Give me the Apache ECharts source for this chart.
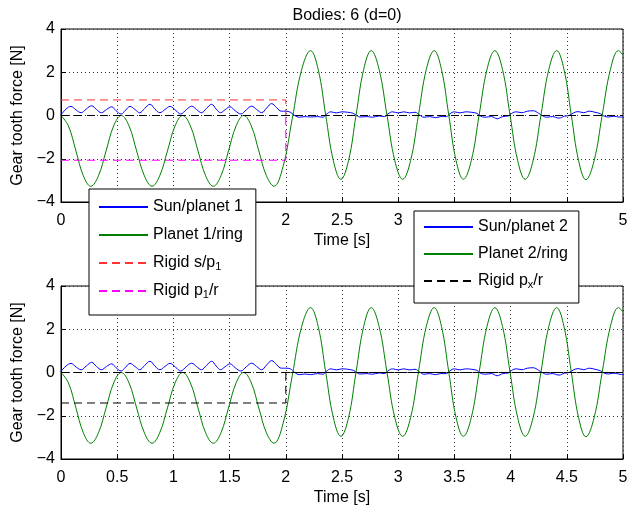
<!DOCTYPE html>
<html><head><meta charset="utf-8">
<script src="https://cdn.jsdelivr.net/npm/echarts@6/dist/echarts.min.js"></script>
<style>html,body{margin:0;padding:0;background:#fff}#c{width:642px;height:513px}</style>
</head><body><div id="c"></div>
<script>
// ---- data ----
const titleText = 'Bodies: 6 (d=0)';
const xTicks = { min: 0, max: 5, step: 0.5 };
const yTicks = { min: -4, max: 4, step: 2 };

const sunPlanet1 = [[0,0.02],[0.045,0.3],[0.089,0.42],[0.135,0.25],[0.18,0.13],[0.225,0.3],[0.273,0.45],[0.315,0.28],[0.36,0.13],[0.405,0.28],[0.451,0.40],[0.49,0.22],[0.535,0.07],[0.575,0.25],[0.614,0.42],[0.66,0.27],[0.70,0.13],[0.745,0.33],[0.792,0.52],[0.835,0.3],[0.88,0.13],[0.925,0.28],[0.97,0.42],[1.02,0.24],[1.065,0.07],[1.115,0.27],[1.163,0.43],[1.205,0.28],[1.25,0.13],[1.295,0.33],[1.34,0.52],[1.38,0.3],[1.42,0.13],[1.46,0.27],[1.504,0.40],[1.55,0.22],[1.60,0.07],[1.65,0.27],[1.696,0.43],[1.74,0.28],[1.785,0.13],[1.83,0.35],[1.874,0.55],[1.92,0.35],[1.96,0.2],[2.0,0.2],
[2.04,0.15],[2.08,0.0],[2.12,-0.08],[2.17,-0.05],[2.22,-0.07],[2.28,-0.05],[2.33,-0.08],[2.36,0.05],[2.40,0.17],[2.45,0.12],[2.50,0.17],[2.55,0.15],[2.60,0.1],[2.63,0.0],[2.66,-0.07],[2.72,-0.05],[2.77,-0.08],[2.83,-0.02],[2.88,-0.05],[2.91,0.08],[2.95,0.17],[3.0,0.12],[3.05,0.17],[3.10,0.12],[3.15,0.15],[3.19,0.02],[3.23,-0.08],[3.28,-0.05],[3.33,-0.1],[3.38,-0.05],[3.43,-0.05],[3.46,0.08],[3.50,0.17],[3.55,0.12],[3.60,0.17],[3.65,0.15],[3.70,0.1],[3.73,-0.02],[3.77,-0.08],[3.83,-0.05],[3.88,-0.15],[3.93,-0.05],[3.98,-0.02],[4.01,0.1],[4.05,0.17],[4.1,0.13],[4.15,0.2],[4.2,0.22],[4.25,0.1],[4.28,0.0],[4.32,-0.08],[4.37,-0.05],[4.43,-0.12],[4.48,-0.03],[4.52,0.0],[4.56,0.12],[4.60,0.18],[4.65,0.13],[4.70,0.2],[4.75,0.15],[4.80,0.08],[4.83,-0.02],[4.87,-0.07],[4.92,-0.03],[4.96,-0.07],[5.0,-0.07]];

const planet1Ring = [[0,0],[0.066,-0.48],[0.133,-1.64],[0.199,-2.79],[0.265,-3.27],[0.333,-2.79],[0.401,-1.64],[0.469,-0.48],[0.537,0],
[0.605,-0.48],[0.673,-1.64],[0.742,-2.79],[0.81,-3.27],[0.878,-2.79],[0.947,-1.64],[1.015,-0.48],[1.083,0],
[1.151,-0.48],[1.219,-1.64],[1.287,-2.79],[1.355,-3.27],[1.423,-2.79],[1.49,-1.64],[1.558,-0.48],[1.625,0],
[1.693,-0.48],[1.76,-1.64],[1.828,-2.79],[1.895,-3.27],
[1.976,-2.35],[2.058,-0.13],[2.139,2.08],[2.22,3.0],
[2.288,2.13],[2.355,0.02],[2.423,-2.09],[2.49,-2.95],
[2.558,-2.09],[2.625,0.02],[2.693,2.13],[2.76,3.0],
[2.83,2.13],[2.90,0.02],[2.97,-2.09],[3.04,-2.95],
[3.11,-2.09],[3.18,0.02],[3.25,2.13],[3.32,3.0],
[3.385,2.13],[3.45,0.02],[3.515,-2.09],[3.58,-2.95],
[3.65,-2.09],[3.72,0.02],[3.79,2.13],[3.86,3.0],
[3.928,2.13],[3.995,0.02],[4.063,-2.09],[4.13,-2.95],
[4.20,-2.09],[4.27,0.02],[4.34,2.13],[4.41,3.0],
[4.475,2.13],[4.54,0.02],[4.605,-2.09],[4.67,-2.97],
[4.743,-2.09],[4.815,0.02],[4.888,2.13],[4.96,3.0],[5.0,2.8]];

const sunPlanet2 = [[0,0.05],[0.045,0.3],[0.089,0.42],[0.135,0.25],[0.18,0.13],[0.225,0.3],[0.273,0.47],[0.315,0.28],[0.36,0.13],[0.405,0.28],[0.451,0.40],[0.49,0.22],[0.535,0.07],[0.575,0.25],[0.614,0.42],[0.66,0.27],[0.70,0.13],[0.745,0.33],[0.792,0.52],[0.835,0.3],[0.88,0.13],[0.925,0.28],[0.97,0.42],[1.02,0.24],[1.065,0.07],[1.115,0.27],[1.163,0.43],[1.205,0.28],[1.25,0.13],[1.295,0.33],[1.34,0.52],[1.38,0.3],[1.42,0.13],[1.46,0.27],[1.504,0.40],[1.55,0.22],[1.60,0.07],[1.65,0.27],[1.696,0.43],[1.74,0.28],[1.785,0.13],[1.83,0.35],[1.874,0.55],[1.92,0.35],[1.96,0.2],[2.0,0.2],
[2.04,0.17],[2.08,0.0],[2.12,-0.1],[2.17,-0.07],[2.22,-0.1],[2.28,-0.05],[2.33,-0.08],[2.36,0.05],[2.40,0.17],[2.45,0.12],[2.50,0.17],[2.55,0.15],[2.60,0.1],[2.63,0.0],[2.66,-0.07],[2.72,-0.05],[2.77,-0.08],[2.83,-0.02],[2.88,-0.05],[2.91,0.08],[2.95,0.17],[3.0,0.12],[3.05,0.17],[3.10,0.12],[3.15,0.15],[3.19,0.02],[3.23,-0.08],[3.28,-0.05],[3.33,-0.1],[3.38,-0.05],[3.43,-0.05],[3.46,0.08],[3.50,0.17],[3.55,0.12],[3.60,0.17],[3.65,0.15],[3.70,0.1],[3.73,-0.02],[3.77,-0.08],[3.83,-0.05],[3.88,-0.15],[3.93,-0.05],[3.98,-0.02],[4.01,0.1],[4.05,0.17],[4.1,0.13],[4.15,0.2],[4.2,0.22],[4.25,0.1],[4.28,0.0],[4.32,-0.08],[4.37,-0.05],[4.43,-0.12],[4.48,-0.03],[4.52,0.0],[4.56,0.12],[4.60,0.18],[4.65,0.13],[4.70,0.2],[4.75,0.15],[4.80,0.08],[4.83,-0.02],[4.87,-0.07],[4.92,-0.03],[4.96,-0.07],[5.0,-0.1]];

const planet2Ring = [[0,0],[0.066,-0.48],[0.133,-1.64],[0.199,-2.79],[0.265,-3.27],[0.333,-2.79],[0.401,-1.64],[0.469,-0.48],[0.537,0],
[0.605,-0.48],[0.673,-1.64],[0.742,-2.79],[0.81,-3.27],[0.878,-2.79],[0.947,-1.64],[1.015,-0.48],[1.083,0],
[1.151,-0.48],[1.219,-1.64],[1.287,-2.79],[1.355,-3.27],[1.423,-2.79],[1.49,-1.64],[1.558,-0.48],[1.625,0],
[1.693,-0.48],[1.76,-1.64],[1.828,-2.79],[1.895,-3.27],
[1.976,-2.35],[2.058,-0.13],[2.139,2.08],[2.22,3.0],
[2.288,2.13],[2.355,0.02],[2.423,-2.09],[2.49,-2.95],
[2.558,-2.09],[2.625,0.02],[2.693,2.13],[2.76,3.0],
[2.83,2.13],[2.90,0.02],[2.97,-2.09],[3.04,-2.95],
[3.11,-2.09],[3.18,0.02],[3.25,2.13],[3.32,3.0],
[3.385,2.13],[3.45,0.02],[3.515,-2.09],[3.58,-2.95],
[3.65,-2.09],[3.72,0.02],[3.79,2.13],[3.86,3.0],
[3.928,2.13],[3.995,0.02],[4.063,-2.09],[4.13,-2.95],
[4.20,-2.09],[4.27,0.02],[4.34,2.13],[4.41,3.0],
[4.475,2.13],[4.54,0.02],[4.605,-2.09],[4.67,-2.97],
[4.743,-2.09],[4.815,0.02],[4.888,2.13],[4.96,3.0],[5.0,2.8]];

const rigidSP1 = [[0,0.72],[2,0.72],[2,0]];
const rigidP1R = [[0,-2.07],[2,-2.07],[2,0]];
const rigidPXR = [[0,-1.41],[2,-1.41],[2,0],[5,0]];
const zeroLine = [[0,0],[5,0]];

const legendTop = ['Sun/planet 1','Planet 1/ring','Rigid s/p1','Rigid p1/r'];
const legendBottom = ['Sun/planet 2','Planet 2/ring','Rigid px/r'];
const legendRich = {
  'Rigid s/p1': '{n|Rigid s/p}{s|1}',
  'Rigid p1/r': '{n|Rigid p}{s|1}{n|/r}',
  'Rigid px/r': '{n|Rigid p}{s|x}{n|/r}'
};

// ---- chart ----
const FONT = 'Liberation Sans, Arial, Helvetica, sans-serif';
const FS = 16;
const chart = echarts.init(document.getElementById('c'), null, {renderer: 'canvas'});
const minus = v => String(v).replace('-', '\u2212');

function xAxis(gi) {
  return {
    type: 'value', gridIndex: gi, min: xTicks.min, max: xTicks.max, interval: xTicks.step,
    name: 'Time [s]', nameLocation: 'middle', nameGap: 31,
    nameTextStyle: {color: '#000', fontSize: FS, fontFamily: FONT},
    axisLine: {show: true, onZero: false, lineStyle: {color: '#000', width: 1}},
    axisTick: {show: true, inside: true, length: 5, lineStyle: {color: '#000'}},
    axisLabel: {color: '#000', fontSize: FS, fontFamily: FONT, margin: 11, showMinLabel: true, showMaxLabel: true},
    splitLine: {show: true, lineStyle: {color: '#333', width: 1, type: [1, 3]}}
  };
}
function yAxis(gi) {
  return {
    type: 'value', gridIndex: gi, min: yTicks.min, max: yTicks.max, interval: yTicks.step,
    name: 'Gear tooth force [N]', nameLocation: 'middle', nameGap: 27, nameRotate: 90,
    nameTextStyle: {color: '#000', fontSize: FS, fontFamily: FONT},
    axisLine: {show: true, onZero: false, lineStyle: {color: '#000', width: 1}},
    axisTick: {show: true, inside: true, length: 5, lineStyle: {color: '#000'}},
    axisLabel: {color: '#000', fontSize: FS, fontFamily: FONT, margin: 6, formatter: minus},
    splitLine: {show: true, lineStyle: {color: '#333', width: 1, type: [1, 3]}}
  };
}
function line(name, data, gi, color, dashed, extra) {
  return Object.assign({
    name, type: 'line', xAxisIndex: gi, yAxisIndex: gi, data,
    showSymbol: false, symbol: 'none', animation: false,
    lineStyle: {color, width: 1, type: dashed ? [8, 5] : 'solid'},
    itemStyle: {color}
  }, extra || {});
}
const legendCommon = {
  orient: 'vertical', selectedMode: false, itemWidth: 49, itemHeight: 14,
  backgroundColor: '#fff', borderColor: '#000', borderWidth: 1, borderRadius: 0,
  itemStyle: {opacity: 0},
  textStyle: {color: '#000', fontSize: FS, fontFamily: FONT, lineHeight: 18,
    rich: {n: {fontSize: FS, fontFamily: FONT, color: '#000', lineHeight: 18},
           s: {fontSize: 11, fontFamily: FONT, color: '#000', lineHeight: 12, padding: [7, 0, 0, 0]}}},
  formatter: name => legendRich[name] || name,
  z: 10
};

chart.setOption({
  backgroundColor: '#fff',
  animation: false,
  title: {text: titleText, left: 342, textAlign: 'center', top: 3,
    textStyle: {color: '#000', fontSize: FS, fontWeight: 'normal', fontFamily: FONT}},
  grid: [
    {left: 61, top: 29, width: 562, height: 173, show: true, borderColor: '#000', borderWidth: 1, containLabel: false},
    {left: 61, top: 286, width: 562, height: 173, show: true, borderColor: '#000', borderWidth: 1, containLabel: false}
  ],
  xAxis: [xAxis(0), xAxis(1)],
  yAxis: [yAxis(0), yAxis(1)],
  legend: [
    Object.assign({}, legendCommon, {data: legendTop, left: 89, top: 189, itemGap: 10, padding: [9, 13, 15, 9]}),
    Object.assign({}, legendCommon, {data: legendBottom, left: 414, top: 211, itemGap: 9, padding: [7, 11, 13, 9]})
  ],
  series: [
    line('Sun/planet 1', sunPlanet1, 0, '#0000ff', false, {smooth: 0.4}),
    line('Planet 1/ring', planet1Ring, 0, '#008000', false, {smooth: 0.4}),
    line('Rigid s/p1', rigidSP1, 0, '#ff3333', true),
    line('Rigid p1/r', rigidP1R, 0, '#ff00ff', true),
    line('zero1', zeroLine, 0, '#000', true),
    line('Sun/planet 2', sunPlanet2, 1, '#0000ff', false, {smooth: 0.4}),
    line('Planet 2/ring', planet2Ring, 1, '#008000', false, {smooth: 0.4}),
    line('zero2', zeroLine, 1, '#000', true),
    line('Rigid px/r', rigidPXR, 1, '#000', true)
  ]
});
</script></body></html>
